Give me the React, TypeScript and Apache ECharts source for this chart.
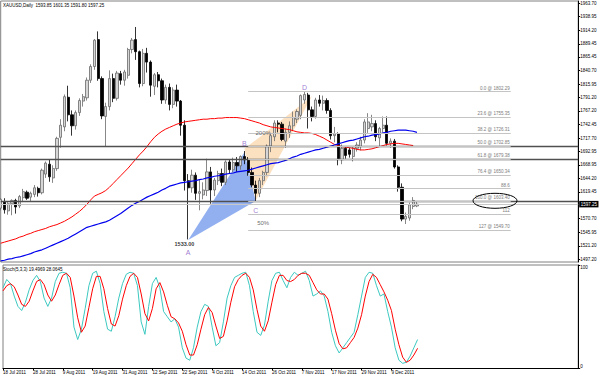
import React, { useEffect, useRef } from "react";
import * as echarts from "echarts";

// ---------- data ----------
const headerText = "XAUUSD,Daily  1593.85 1601.35 1591.80 1597.25";
const stochText = "Stoch(5,3,3) 19.4969 28.0645";

const dateLabels = [
  "18 Jul 2011", "28 Jul 2011", "9 Aug 2011", "19 Aug 2011", "31 Aug 2011", "12 Sep 2011", "22 Sep 2011",
  "4 Oct 2011", "14 Oct 2011", "26 Oct 2011", "7 Nov 2011", "17 Nov 2011", "29 Nov 2011", "9 Dec 2011",
];
const priceTicks = [
  1963.7, 1938.95, 1914.2, 1889.45, 1865.45, 1840.7, 1815.95, 1791.2, 1767.2, 1742.45,
  1717.7, 1692.95, 1668.95, 1644.2, 1619.45, 1570.7, 1545.95, 1521.2, 1497.2,
];
const stochTicks = [0, 100];

const opens = [
  1590, 1602, 1585, 1598, 1604, 1594, 1609, 1619, 1610, 1615, 1626, 1618, 1652, 1670, 1645, 1662, 1719, 1738, 1792, 1760,
  1740, 1764, 1785, 1791, 1823, 1848, 1897, 1826, 1757, 1775, 1826, 1790, 1835, 1823, 1832, 1879, 1897, 1875, 1817, 1872,
  1856, 1812, 1833, 1822, 1787, 1810, 1779, 1805, 1785, 1741, 1640, 1627, 1650, 1617, 1614, 1622, 1656, 1623, 1640, 1653,
  1637, 1674, 1660, 1673, 1667, 1684, 1678, 1655, 1632, 1617, 1640, 1655, 1703, 1720, 1745, 1743, 1712, 1728, 1740, 1752,
  1759, 1787, 1796, 1769, 1757, 1787, 1781, 1786, 1768, 1722, 1725, 1678, 1699, 1696, 1684, 1699, 1702, 1714, 1735, 1738,
  1744, 1718, 1735, 1741, 1708, 1712, 1665, 1628, 1570, 1572, 1593, 1593.85,
];
const closes = [
  1606, 1587, 1598, 1604, 1592, 1611, 1620, 1608, 1617, 1627, 1618, 1659, 1672, 1647, 1662, 1717, 1741, 1793, 1760, 1740,
  1764, 1786, 1793, 1823, 1848, 1896, 1826, 1758, 1775, 1826, 1790, 1836, 1823, 1838, 1879, 1896, 1875, 1817, 1872, 1856,
  1814, 1833, 1822, 1787, 1810, 1779, 1805, 1785, 1741, 1640, 1627, 1650, 1617, 1620, 1623, 1656, 1623, 1641, 1653, 1637,
  1674, 1660, 1673, 1667, 1684, 1678, 1655, 1632, 1617, 1640, 1655, 1703, 1722, 1745, 1743, 1715, 1728, 1740, 1755, 1766,
  1795, 1797, 1769, 1757, 1787, 1781, 1786, 1768, 1722, 1725, 1680, 1699, 1686, 1688, 1699, 1705, 1714, 1747, 1747, 1744,
  1720, 1735, 1741, 1708, 1712, 1665, 1628, 1570, 1575, 1596, 1604, 1597.25,
];
const lows = [
  1586, 1580, 1578, 1577, 1580, 1590, 1601, 1605, 1602, 1610, 1611, 1615, 1645, 1638, 1636, 1658, 1700, 1730, 1748, 1722,
  1733, 1758, 1775, 1786, 1818, 1842, 1822, 1752, 1703, 1768, 1783, 1786, 1815, 1813, 1826, 1872, 1860, 1810, 1812, 1837,
  1793, 1796, 1810, 1780, 1780, 1768, 1772, 1775, 1722, 1622, 1533, 1618, 1605, 1586, 1606, 1612, 1598, 1612, 1632, 1630,
  1632, 1652, 1655, 1656, 1660, 1670, 1649, 1628, 1603, 1610, 1632, 1648, 1692, 1712, 1728, 1712, 1700, 1718, 1732, 1745,
  1752, 1780, 1735, 1748, 1753, 1775, 1768, 1762, 1715, 1710, 1668, 1670, 1680, 1682, 1675, 1693, 1695, 1708, 1727, 1730,
  1712, 1702, 1728, 1704, 1700, 1662, 1620, 1566, 1561, 1567, 1588, 1591.8,
];
const highs = [
  1608, 1608, 1602, 1606, 1607, 1614, 1625, 1622, 1620, 1632, 1629, 1662, 1675, 1678, 1668, 1720, 1752, 1797, 1813, 1768,
  1768, 1790, 1798, 1828, 1852, 1898, 1912, 1830, 1782, 1841, 1835, 1840, 1840, 1842, 1882, 1900, 1920, 1877, 1880, 1882,
  1859, 1836, 1838, 1826, 1815, 1817, 1810, 1815, 1787, 1750, 1652, 1660, 1655, 1642, 1637, 1680, 1665, 1645, 1658, 1662,
  1677, 1678, 1682, 1683, 1686, 1694, 1683, 1664, 1640, 1645, 1658, 1706, 1726, 1750, 1750, 1747, 1735, 1748, 1766, 1770,
  1797, 1802, 1800, 1775, 1791, 1796, 1795, 1790, 1772, 1738, 1728, 1706, 1703, 1700, 1703, 1710, 1720, 1752, 1763, 1760,
  1750, 1738, 1757, 1757, 1717, 1716, 1668, 1635, 1582, 1600, 1610, 1601.35,
];

const maRed = [
  1526, 1528, 1530, 1532, 1534, 1537, 1539, 1542, 1544, 1547, 1549, 1551, 1553, 1556, 1558, 1560, 1563, 1566, 1570, 1574,
  1579, 1584, 1590, 1597, 1605, 1612, 1615, 1618, 1622, 1628, 1635, 1642, 1649, 1656, 1663, 1671, 1679, 1687, 1694, 1702,
  1711, 1719, 1725, 1730, 1734, 1737, 1740, 1743, 1745, 1747, 1748, 1749, 1750, 1751, 1752, 1752, 1753, 1753, 1754, 1754,
  1755, 1755, 1755, 1755, 1754, 1753, 1751, 1749, 1747, 1745, 1742, 1740, 1738, 1737, 1736, 1735, 1734, 1733, 1731, 1729,
  1728, 1727, 1727, 1726, 1724, 1721, 1718, 1714, 1710, 1706, 1704, 1702, 1701, 1700, 1699, 1697, 1696, 1696, 1697, 1698,
  1700, 1702, 1704, 1706, 1707, 1708, 1708, 1707, 1706, 1705, 1704,
];
const maBlue = [
  1494, 1495, 1497, 1498, 1500, 1501, 1503, 1505, 1507, 1510, 1512, 1514, 1517, 1520, 1523, 1526, 1529, 1532, 1535, 1539,
  1543, 1547, 1551, 1555, 1557, 1559, 1561, 1563, 1565, 1568, 1572, 1576, 1580, 1585, 1590, 1595, 1599, 1602, 1606, 1610,
  1613, 1616, 1619, 1623, 1626, 1630, 1632, 1634, 1636, 1637, 1638, 1639, 1640, 1642, 1643, 1645, 1646, 1648, 1649, 1650,
  1652, 1653, 1654, 1656, 1657, 1658, 1659, 1661, 1663, 1665, 1667, 1669, 1671, 1672, 1673, 1675, 1677, 1680, 1683, 1685,
  1688, 1690, 1692, 1694, 1696, 1697, 1699, 1701, 1703, 1705, 1707, 1709, 1711, 1713, 1714, 1716, 1718, 1720, 1721, 1723,
  1724, 1725, 1727, 1728, 1730, 1731, 1732, 1732, 1732, 1731, 1730, 1728,
];

const stochMain = [
  78, 86, 82, 70, 60, 56, 64, 76, 85, 90, 84, 68, 60, 68, 84, 92, 93, 92, 78, 40,
  28, 38, 58, 80, 92, 94, 82, 55, 38, 36, 50, 68, 82, 91, 93, 92, 80, 45, 33, 60,
  82, 88, 78, 55, 50, 45, 48, 40, 20, 10, 8, 20, 40, 55, 62, 60, 40, 22, 25, 45,
  68, 80, 88, 90, 92, 93, 80, 55, 35, 32, 42, 65, 85, 92, 93, 85, 78, 88, 93, 90,
  92, 94, 85, 70, 72, 75, 70, 55, 35, 22, 15, 20, 25, 30, 35, 52, 70, 88, 93, 92,
  80, 70, 72, 55, 40, 20, 8, 5, 6, 12, 20, 28,
];
const stochSignal = [
  75, 80, 82, 79, 71, 62, 60, 65, 75, 84, 86, 81, 71, 65, 71, 81, 90, 92, 88, 70,
  49, 35, 41, 59, 77, 89, 89, 77, 58, 43, 41, 51, 67, 80, 89, 92, 88, 72, 53, 46,
  58, 77, 83, 74, 61, 50, 48, 44, 36, 23, 13, 13, 23, 38, 52, 59, 54, 41, 29, 31,
  46, 64, 79, 86, 90, 92, 88, 76, 57, 41, 36, 46, 64, 81, 90, 90, 85, 84, 86, 90,
  92, 92, 90, 83, 76, 72, 72, 67, 53, 37, 24, 19, 20, 25, 30, 39, 52, 70, 84, 91,
  88, 81, 74, 66, 56, 38, 23, 11, 6, 8, 13, 19.5,
];

// horizontal levels
const hLevels = [1702.85, 1679.38, 1603.4];
const bidPrice = 1597.25;
const fibLevels = [1802.29, 1755.35, 1726.31, 1702.85, 1679.38, 1650.34, 1625.68, 1603.4, 1579.53, 1549.7];
const fibLabels = [
  "0.0 @ 1802.29", "23.6 @ 1755.35", "38.2 @ 1726.31", "50.0 @ 1702.85", "61.8 @ 1679.38",
  "76.4 @ 1650.34", "88.6", "100.0 @ 1603.40", "112", "127 @ 1549.70",
];
const fibStart = 66;
const fibEnd = 136;

// harmonic triangles [x1,y1,x2,y2,x3,y3] (bar index, price)
const triBlue = [50.3, 1532, 65.4, 1692, 67.9, 1603];
const triOrange = [65.2, 1698, 68.3, 1604, 83, 1794];

// text annotations [bar index, price, text]
const pointLabels: [number, number, string][] = [
  [50, 1510, "A"],
  [65.4, 1708, "B"],
  [67.9, 1585, "C"],
  [81, 1809, "D"],
];
const noteLabels: [number, number, string][] = [
  [49.2, 1525, "1533.00"],
  [69.8, 1726, "200%"],
  [69.9, 1562, "50%"],
];

const N_SLOTS = 155;

const FONT = "Liberation Sans";

export default function App() {
  const ref = useRef<HTMLDivElement>(null);
  useEffect(() => {
    if (!ref.current) return;
    const chart = echarts.init(ref.current, undefined, { renderer: "svg" });
    const cats = Array.from({ length: N_SLOTS }, (_, i) => String(i));
    const candles = opens.map((o, i) => [o, closes[i], lows[i], highs[i]]);
    const showTick = (index: number) => index % 8 === 0 && index / 8 < dateLabels.length;

    const markData: any[] = [];
    hLevels.forEach((p) => {
      markData.push({ yAxis: p, lineStyle: { color: "#505050", width: 1.3, type: "solid" }, label: { show: false } });
    });
    markData.push({
      yAxis: bidPrice,
      lineStyle: { color: "#c8c8c8", width: 1, type: "solid" },
      label: {
        show: true,
        position: "end",
        distance: 1,
        formatter: bidPrice.toFixed(2),
        color: "#fff",
        backgroundColor: "#000",
        padding: [1, 1.5, 0.5, 1.5],
        fontSize: 4.5,
        fontFamily: FONT,
      },
    });
    fibLevels.forEach((p, i) => {
      markData.push([
        {
          coord: [fibStart, p],
          lineStyle: { color: "#c4c4c4", width: 1, type: "solid" },
          label: {
            show: true,
            position: "insideEndTop",
            distance: 1,
            formatter: fibLabels[i],
            color: "#7a7a7a",
            fontSize: 4.5,
            fontFamily: FONT,
          },
        },
        { coord: [fibEnd, p] },
      ]);
    });

    const labelItems = [
      ...pointLabels.map(([x, y, t]) => ({
        value: [x, y],
        label: { show: true, position: "inside", formatter: t, color: "#8a5cc8", fontSize: 7, fontFamily: FONT },
      })),
      ...noteLabels.map(([x, y, t], i) => ({
        value: [x, y],
        label: {
          show: true,
          position: "inside",
          formatter: t,
          color: i === 0 ? "#000" : "#444",
          fontWeight: i === 0 ? "bold" : "normal",
          fontSize: i === 0 ? 5.5 : 6,
          fontFamily: FONT,
        },
      })),
    ];

    const option: any = {
      animation: false,
      textStyle: { fontFamily: FONT },
      grid: [
        { left: 0.7, right: 21.8, top: 1, height: 261, show: true, borderColor: "#808080", borderWidth: 1 },
        { left: 0.7, right: 21.8, top: 265, height: 104, show: true, borderColor: "#808080", borderWidth: 1 },
      ],
      xAxis: [
        { type: "category", gridIndex: 0, data: cats, boundaryGap: false, show: false },
        {
          type: "category",
          gridIndex: 1,
          data: cats,
          boundaryGap: false,
          axisLine: { lineStyle: { color: "#000", width: 1 } },
          axisTick: { interval: showTick, length: 2, lineStyle: { color: "#000" } },
          axisLabel: {
            interval: showTick,
            formatter: (_v: string, idx: number) => dateLabels[idx / 8] || "",
            align: "left",
            fontSize: 4.5,
            color: "#000",
            margin: 1.5,
            fontFamily: FONT,
          },
        },
      ],
      yAxis: [
        {
          type: "value",
          gridIndex: 0,
          position: "right",
          min: 1491.81,
          max: 1967.35,
          splitLine: { show: false },
          axisLine: { show: true, lineStyle: { color: "#000", width: 1 } },
          axisTick: { show: true, length: 2, customValues: priceTicks, lineStyle: { color: "#000" } },
          axisLabel: {
            customValues: priceTicks,
            formatter: (v: number) => v.toFixed(2),
            fontSize: 4.5,
            color: "#000",
            margin: 2,
            fontFamily: FONT,
          },
        },
        {
          type: "value",
          gridIndex: 1,
          position: "right",
          min: 0,
          max: 100,
          splitLine: { show: false },
          axisLine: { show: true, lineStyle: { color: "#000", width: 1 } },
          axisTick: { show: true, length: 2, customValues: stochTicks, lineStyle: { color: "#000" } },
          axisLabel: {
            customValues: stochTicks,
            fontSize: 4.5,
            color: "#000",
            margin: 2,
            verticalAlignMaxLabel: "top",
            verticalAlignMinLabel: "bottom",
            fontFamily: FONT,
          },
        },
      ],
      series: [
        {
          type: "custom",
          xAxisIndex: 0,
          yAxisIndex: 0,
          z: 1,
          silent: true,
          encode: { x: [0, 2, 4], y: [1, 3, 5] },
          data: [triBlue, triOrange],
          renderItem: (params: any, api: any) => {
            const pts = [0, 1, 2].map((k) => api.coord([api.value(k * 2), api.value(k * 2 + 1)]));
            const fills = ["rgba(110,150,235,0.75)", "rgba(250,205,150,0.6)"];
            return { type: "polygon", shape: { points: pts }, style: { fill: fills[params.dataIndex], stroke: "none" } };
          },
        },
        {
          type: "candlestick",
          xAxisIndex: 0,
          yAxisIndex: 0,
          z: 3,
          barWidth: 2.6,
          data: candles,
          itemStyle: {
            color: "#d6d6d6",
            color0: "#000000",
            borderColor: "#6a6a6a",
            borderColor0: "#000000",
            borderWidth: 0.8,
          },
          markLine: { symbol: "none", silent: true, animation: false, precision: 2, data: markData },
        },
        {
          type: "line",
          xAxisIndex: 0,
          yAxisIndex: 0,
          z: 4,
          data: maRed,
          symbol: "none",
          lineStyle: { color: "#ff0000", width: 1 },
        },
        {
          type: "line",
          xAxisIndex: 0,
          yAxisIndex: 0,
          z: 4,
          data: maBlue,
          symbol: "none",
          lineStyle: { color: "#0000ee", width: 1.2 },
        },
        {
          type: "scatter",
          xAxisIndex: 0,
          yAxisIndex: 0,
          z: 5,
          symbol: "circle",
          symbolSize: 1,
          itemStyle: { color: "rgba(0,0,0,0)" },
          silent: true,
          data: labelItems,
        },
        {
          type: "line",
          xAxisIndex: 1,
          yAxisIndex: 1,
          data: stochMain,
          symbol: "none",
          lineStyle: { color: "#3cc8c0", width: 1 },
        },
        {
          type: "line",
          xAxisIndex: 1,
          yAxisIndex: 1,
          data: stochSignal,
          symbol: "none",
          lineStyle: { color: "#ff0000", width: 1 },
        },
      ],
      graphic: [
        { type: "text", left: 3, top: 2.5, style: { text: headerText, fontSize: 4.5, fill: "#000", fontFamily: FONT } },
        { type: "text", left: 3, top: 266.5, style: { text: stochText, fontSize: 4.5, fill: "#000", fontFamily: FONT } },
        {
          type: "ellipse",
          shape: { cx: 495, cy: 200.8, rx: 22, ry: 7.5 },
          style: { fill: "none", stroke: "#000", lineWidth: 1 },
          z: 10,
        },
      ],
    };
    chart.setOption(option);
    return () => chart.dispose();
  }, []);
  return (
    <div
      ref={ref}
      style={{ position: "fixed", left: 0, top: 0, width: 600, height: 375, background: "#fff" }}
    />
  );
}
